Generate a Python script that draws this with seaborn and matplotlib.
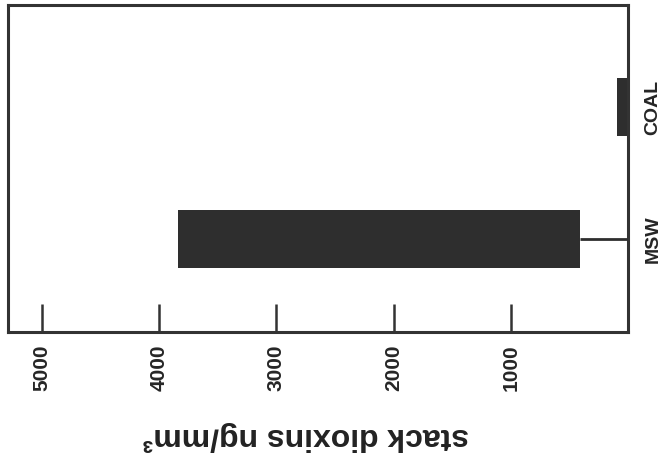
import numpy as np
import pandas as pd
import matplotlib
matplotlib.use("Agg")
import matplotlib.pyplot as plt
import seaborn as sns

# Chart data
categories = ["COAL", "MSW"]
range_low = [0, 410]        # lower end of each bar, ng/mm3
range_high = [95, 3840]     # upper end of each bar, ng/mm3
x_ticks = [1000, 2000, 3000, 4000, 5000]

df = pd.DataFrame({"fuel": categories, "low": range_low, "high": range_high})

sns.set_style("ticks")
plt.rcParams["font.family"] = ["Liberation Sans", "DejaVu Sans"]
plt.rcParams["font.weight"] = "bold"

fig = plt.figure(figsize=(6.64, 4.66), dpi=100)
ax = fig.add_axes([8 / 664, 1 - 332 / 466, 620 / 664, 327 / 466])

bar_color = "#2e2e2e"
# full bar up to the high value, then blank out 0..low to get a floating range bar
sns.barplot(data=df, x="high", y="fuel", orient="h", color=bar_color,
            width=0.44, linewidth=0, saturation=1, ax=ax)
sns.barplot(data=df, x="low", y="fuel", orient="h", color="white",
            width=0.46, linewidth=0, saturation=1, ax=ax)

# thin line from the axis to the start of a floating bar
for i, lo in enumerate(range_low):
    if lo > 0:
        ax.hlines(i, 0, lo, color=bar_color, lw=2, zorder=3)

ax.set_xlim(5290, 0)
ax.set_ylim(1.705, -0.773)

ax.set_xticks(x_ticks)
ax.set_xticklabels([str(t) for t in x_ticks], rotation=90, fontsize=15,
                   fontweight="bold", ha="center", va="top")
ax.tick_params(axis="x", direction="in", length=20, width=1.8,
               color="#333333", pad=9)

ax.yaxis.tick_right()
ax.tick_params(axis="y", length=0, pad=12)
ax.set_yticks(range(len(categories)))
ax.set_yticklabels(categories, rotation=90, fontsize=14, fontweight="bold",
                   va="center")

ax.set_xlabel("")
ax.set_ylabel("")
for s in ax.spines.values():
    s.set_visible(True)
    s.set_linewidth(2.2)
    s.set_color("#333333")

fig.text(306 / 664, 1 - 436 / 466, "stack dioxins ng/mm³", rotation=180,
         ha="center", va="center", fontsize=23, fontweight="bold",
         color="#222222")

fig.savefig("out.png", dpi=100)
